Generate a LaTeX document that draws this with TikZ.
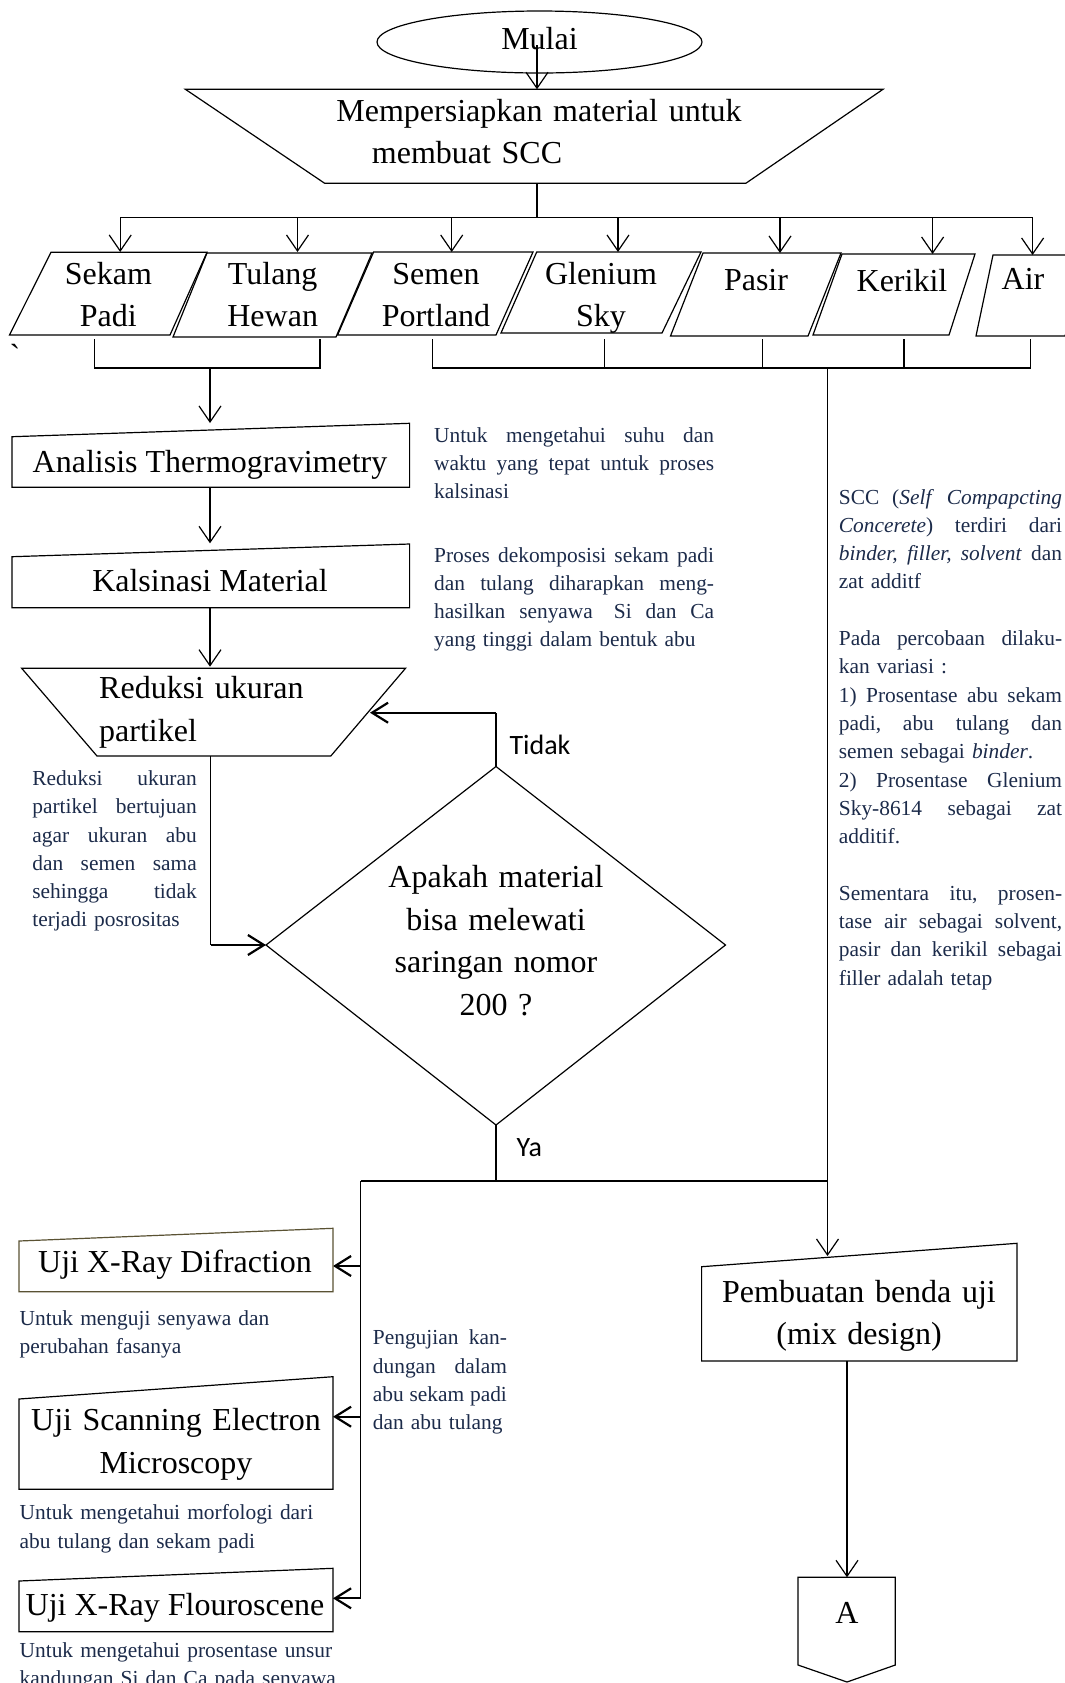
\documentclass[tikz,border=0pt]{standalone}
\usepackage{fontspec}
\setmainfont{Liberation Serif}
\newfontfamily\sansc{Carlito}
\usetikzlibrary{arrows.meta,shapes.geometric}
\definecolor{annc}{HTML}{1C2B4A}
\definecolor{xrdc}{HTML}{5A5233}
\newcommand{\jl}[2]{\leavevmode\hbox to #1{#2}}
\tikzset{
 shp/.style={draw=black, line width=0.6pt},
 ln/.style={line width=0.6pt},
 arr/.style={line width=0.6pt, -{Straight Barb[length=8pt,width=11pt]}},
 barr/.style={line width=1.1pt, -{Straight Barb[length=8pt,width=10pt]}},
 mt/.style={font=\fontsize{16}{21.25}\selectfont, inner sep=0pt, align=center},
 ann/.style={font=\fontsize{10.7}{14.15}\selectfont, text=annc, inner sep=0pt, align=left, anchor=base west},
 lab/.style={font=\sansc\fontsize{14}{16}\selectfont, inner sep=0pt, anchor=base},
}
\begin{document}
\begin{tikzpicture}[x=0.5pt,y=-0.5pt]
\useasboundingbox (0,0) rectangle (1065,1683);
\fill[white] (0,0) rectangle (1065,1683);

% start
\node[shp, ellipse, minimum width=162.5pt, minimum height=31pt, inner sep=0pt] (mulai) at (539.5,42) {};
\node[mt, anchor=base] (mulaiT) at (539.5,49) {Mulai};

% preparation
\draw[shp] (185.4,89.3) -- (883,89.3) -- (745.8,183.3) -- (324.7,183.3) -- cycle;
\node[mt, align=left, text width=230pt, anchor=base west] (prepT) at (336,121) {Mempersiapkan material untuk\\\hspace*{17.75pt}membuat SCC};
\coordinate (mulaiS) at (537,45);
\coordinate (prepTop) at (537,89.3);
\coordinate (prepBot) at (537,183.3);
\coordinate (bus) at (537,217.3);
\coordinate (busL) at (120.2,217.3);
\coordinate (busR) at (1032.6,217.3);
\draw[arr] (mulaiS) -- (prepTop);
\draw[ln] (prepBot) -- (bus);
\draw[ln] (busL) -- (busR);
\foreach \x/\y/\n in {120.2/252/sekam, 297.5/252/tulang, 451.7/252/semen, 618/252/glenium, 780/253/pasir, 932.6/254/kerikil, 1032.6/255/air}{
  \coordinate (d\n) at (\x,217.3);
  \coordinate (t\n) at (\x,\y);
  \draw[arr] (d\n) -- (t\n);
}

% materials
\draw[shp] (51,252.3) -- (207,252.3) -- (170,335) -- (9.5,335) -- cycle;
\draw[shp] (207,253) -- (372,253) -- (336,337) -- (173,337) -- cycle;
\draw[shp] (373.6,252) -- (533,252) -- (496,335) -- (337.6,335) -- cycle;
\draw[shp] (536.7,252) -- (701,252) -- (662,333) -- (501,333) -- cycle;
\draw[shp] (703,253) -- (841,253) -- (808,336) -- (670.5,336) -- cycle;
\draw[shp] (842,254) -- (975,254) -- (949,335) -- (813,335) -- cycle;
\draw[shp] (993,255) -- (1090,255) -- (1065,336) -- (976,336) -- cycle;
\node[mt, text width=80pt, anchor=base] (sekamT) at (108.4,284) {Sekam\\Padi};
\node[mt, text width=80pt, anchor=base] (tulangT) at (272.7,284) {Tulang\\Hewan};
\node[mt, text width=80pt, anchor=base] (semenT) at (436,284) {Semen\\Portland};
\node[mt, text width=80pt, anchor=base] (gleniumT) at (601,284) {Glenium\\Sky};
\node[mt, anchor=base] (pasirT) at (756,290.5) {Pasir};
\node[mt, anchor=base] (kerikilT) at (902,291.5) {Kerikil};
\node[mt, anchor=base] (airT) at (1023,289.5) {Air};
\node[mt, anchor=base] (tick) at (15,366) {\textasciigrave};

% brackets
\draw[ln] (94.5,339) -- (94.5,368) -- (320,368) -- (320,339);
\draw[ln] (432.7,339) -- (432.7,368) -- (1030.6,368) -- (1030.6,339);
\foreach \x in {604.4,762.2,904}{ \draw[ln] (\x,339) -- (\x,368); }
\coordinate (brL) at (210,368);
\coordinate (anaTop) at (210,423);
\draw[arr] (brL) -- (anaTop);

% Analisis
\draw[shp] (12,436.7) -- (409.6,423.3) -- (409.6,487.3) -- (12,487.3) -- cycle;
\node[mt, anchor=base] (anaT) at (210,472) {Analisis Thermogravimetry};
\coordinate (anaB) at (210,487.3);
\coordinate (kalTop) at (210,543.3);
\draw[arr] (anaB) -- (kalTop);

% Kalsinasi
\draw[shp] (12,556.7) -- (409.6,544) -- (409.6,607.7) -- (12,607.7) -- cycle;
\node[mt, anchor=base] (kalT) at (210,591) {Kalsinasi Material};
\coordinate (kalB) at (210,607.7);
\coordinate (redTop) at (210,666.7);
\draw[arr] (kalB) -- (redTop);

% Reduksi
\draw[shp] (21.7,668.3) -- (405.5,668.3) -- (330.8,756) -- (97,756) -- cycle;
\node[mt, align=left, text width=150pt, anchor=base west] (redT) at (98.8,698.5) {Reduksi ukuran\\partikel};
\coordinate (redB) at (210.6,756);
\coordinate (redC) at (210.6,945);
\coordinate (diaL) at (266,945);
\draw[ln] (redB) -- (redC);
\draw[barr] (redC) -- (diaL);

% Diamond
\draw[shp] (496,766.5) coordinate (diaT) -- (725.5,945) -- (496,1125) coordinate (diaB) -- (266,945) -- cycle;
\node[mt, text width=130pt, anchor=base] (diaText) at (496,887.5) {Apakah material\\bisa melewati\\saringan nomor\\200 ?};
\coordinate (tidakC) at (496,712.7);
\coordinate (redR) at (370,712.7);
\draw[ln] (diaT) -- (tidakC);
\draw[barr] (tidakC) -- (redR);
\node[lab] (tidak) at (540,754) {Tidak};
\coordinate (yaC) at (496,1181);
\draw[ln] (diaB) -- (yaC);
\node[lab] (ya) at (529.3,1156) {Ya};
\coordinate (hL) at (360.5,1181);
\coordinate (hR) at (827.5,1181);
\draw[ln] (hL) -- (hR);
\coordinate (brR) at (827.5,368);
\coordinate (pbTop) at (827.5,1256);
\draw[arr] (brR) -- (pbTop);

% tests
\coordinate (xrdA) at (360.5,1266);
\coordinate (semA) at (360.5,1416.7);
\coordinate (xrfA) at (360.5,1598.3);
\coordinate (xrdR) at (333,1266);
\coordinate (semR) at (333,1416.7);
\coordinate (xrfR) at (333,1598.3);
\draw[ln] (hL) -- (xrfA);
\draw[barr] (xrdA) -- (xrdR);
\draw[barr] (semA) -- (semR);
\draw[barr] (xrfA) -- (xrfR);
\draw[shp, draw=xrdc] (19,1241) -- (333,1228.3) -- (333,1291.7) -- (19,1291.7) -- cycle;
\node[mt, anchor=base] (xrdT) at (175,1272) {Uji X-Ray Difraction};
\draw[shp] (19,1399) -- (333,1376.7) -- (333,1489.3) -- (19,1489.3) -- cycle;
\node[mt, text width=160pt, anchor=base] (semT) at (176,1430.5) {Uji Scanning Electron\\Microscopy};
\draw[shp] (19,1581) -- (333,1568.3) -- (333,1631.7) -- (19,1631.7) -- cycle;
\node[mt, anchor=base] (xrfT) at (175,1615.5) {Uji X-Ray Flouroscene};

% Pembuatan
\draw[shp] (701.6,1266.7) -- (1017,1243.3) -- (1017,1361) -- (701.6,1361) -- cycle;
\node[mt, text width=160pt, anchor=base] (pbT) at (859,1302) {Pembuatan benda uji\\(mix design)};
\coordinate (pbB) at (847,1361);
\coordinate (aTop) at (847,1577.3);
\draw[arr] (pbB) -- (aTop);
\draw[shp] (798,1577.3) -- (895.3,1577.3) -- (895.3,1665) -- (847,1682) -- (798,1665) -- cycle;
\node[mt, anchor=base] (aT) at (847,1623) {A};

% annotations
\node[ann, text width=140pt] (annTGA) at (433.7,442) {\jl{140pt}{Untuk\hfill mengetahui\hfill suhu\hfill dan}\\\jl{140pt}{waktu\hfill yang\hfill tepat\hfill untuk\hfill proses}\\kalsinasi};
\node[ann, text width=140pt] (annKal) at (433.7,562) {\jl{140pt}{Proses\hfill dekomposisi\hfill sekam\hfill padi}\\\jl{140pt}{dan\hfill tulang\hfill diharapkan\hfill meng-}\\\jl{140pt}{hasilkan\hfill senyawa\ \hfill Si\hfill dan\hfill Ca}\\yang tinggi dalam bentuk abu};
\node[ann, text width=111.6pt] (annSCC) at (838.5,504) {\jl{111.6pt}{SCC\hfill(\textit{Self}\hfill\textit{Compapcting}}\\\jl{111.6pt}{\textit{Concerete})\hfill terdiri\hfill dari}\\\jl{111.6pt}{\textit{binder,}\hfill\textit{filler,}\hfill\textit{solvent}\hfill dan}\\zat additf\\[14.15pt]\jl{111.6pt}{Pada\hfill percobaan\hfill dilaku-}\\kan variasi :\\\jl{111.6pt}{1)\hfill Prosentase\hfill abu\hfill sekam}\\\jl{111.6pt}{padi,\hfill abu\hfill tulang\hfill dan}\\semen sebagai \textit{binder}.\\\jl{111.6pt}{2)\hfill Prosentase\hfill Glenium}\\\jl{111.6pt}{Sky-8614\hfill sebagai\hfill zat}\\additif.\\[14.15pt]\jl{111.6pt}{Sementara\hfill itu,\hfill prosen-}\\\jl{111.6pt}{tase\hfill air\hfill sebagai\hfill solvent,}\\\jl{111.6pt}{pasir\hfill dan\hfill kerikil\hfill sebagai}\\filler adalah tetap};
\node[ann, text width=82.2pt] (annRed) at (32,785.4) {\jl{82.2pt}{Reduksi\hfill ukuran}\\\jl{82.2pt}{partikel\hfill bertujuan}\\\jl{82.2pt}{agar\hfill ukuran\hfill abu}\\\jl{82.2pt}{dan\hfill semen\hfill sama}\\\jl{82.2pt}{sehingga\hfill tidak}\\terjadi posrositas};
\node[ann, text width=67pt] (annUji) at (372.5,1344.8) {\jl{67pt}{Pengujian\hfill kan-}\\\jl{67pt}{dungan\hfill dalam}\\\jl{67pt}{abu\hfill sekam\hfill padi}\\dan abu tulang};
\node[ann, text width=200pt] (annXRD) at (19.3,1325.5) {Untuk menguji senyawa dan\\perubahan fasanya};
\node[ann, text width=200pt] (annSEM) at (19.3,1519.8) {Untuk mengetahui morfologi dari\\abu tulang dan sekam padi};
\node[ann, text width=200pt] (annXRF) at (19.3,1657) {Untuk mengetahui prosentase unsur\\kandungan Si dan Ca pada senyawa};
\end{tikzpicture}
\end{document}
